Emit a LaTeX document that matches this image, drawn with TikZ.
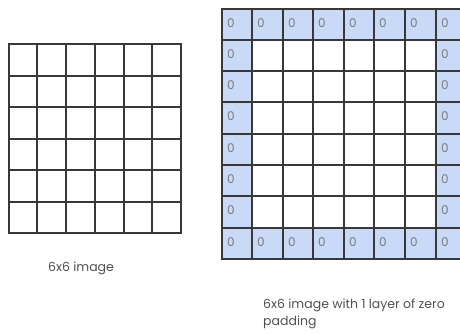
\documentclass[tikz,border=0pt]{standalone}
\usepackage{fontspec}
\setmainfont{Poppins}
\definecolor{padblue}{HTML}{C9DAF8}
\definecolor{gridline}{HTML}{383838}
\definecolor{zerogray}{HTML}{7A7A7A}
\definecolor{labelgray}{HTML}{505050}

% grid line positions, in px
\def\imcols{{9,37,66,95,124,152,181}}
\def\imrows{{44,76,107,139,170,202,233}}
\def\padcols{{222,252,283,313,344,374,405,436,467}}
\def\padrows{{9,40,71,102,134,165,196,228,259}}

\begin{document}
\begin{tikzpicture}[x=1pt,y=-1pt,
  cell/.style={draw=gridline,line width=1.6pt,inner sep=0pt,outer sep=0pt,
    anchor=north west},
  padcell/.style={cell,fill=padblue},
  zero/.style={text=zerogray,font=\fontsize{12}{12}\selectfont,
    inner sep=0pt,anchor=west,xshift=5pt,yshift=1.5pt},
  caption/.style={text=labelgray,font=\fontsize{12.5}{17}\selectfont,
    inner sep=0pt,align=left}]
  \useasboundingbox (0,0) rectangle (460,334);
  \clip (0,0) rectangle (460,334);
  % plain 6x6 image
  \foreach \r in {1,...,6}
    \foreach \c in {1,...,6} {
      \pgfmathsetmacro\xa{\imcols[\c-1]}
      \pgfmathsetmacro\xb{\imcols[\c]}
      \pgfmathsetmacro\ya{\imrows[\r-1]}
      \pgfmathsetmacro\yb{\imrows[\r]}
      \node[cell,minimum width=(\xb-\xa)*1pt,minimum height=(\yb-\ya)*1pt]
        (im-\r-\c) at (\xa,\ya) {};
    }
  \node[caption,anchor=base] (imlabel) at (81,271) {6x6 image};
  % same image with one ring of zeros
  \foreach \r in {1,...,8}
    \foreach \c in {1,...,8} {
      \pgfmathsetmacro\xa{\padcols[\c-1]}
      \pgfmathsetmacro\xb{\padcols[\c]}
      \pgfmathsetmacro\ya{\padrows[\r-1]}
      \pgfmathsetmacro\yb{\padrows[\r]}
      \pgfmathtruncatemacro\onedge{(\r==1)||(\r==8)||(\c==1)||(\c==8)}
      \ifnum\onedge=1
        \node[padcell,minimum width=(\xb-\xa)*1pt,minimum height=(\yb-\ya)*1pt]
          (pad-\r-\c) at (\xa,\ya) {};
        \node[zero] (zero-\r-\c) at (pad-\r-\c.west) {0};
      \else
        \node[cell,minimum width=(\xb-\xa)*1pt,minimum height=(\yb-\ya)*1pt]
          (pad-\r-\c) at (\xa,\ya) {};
      \fi
    }
  \node[caption,anchor=north west] (padlabel) at (263,299)
    {6x6 image with 1 layer of zero\\padding};
\end{tikzpicture}
\end{document}
